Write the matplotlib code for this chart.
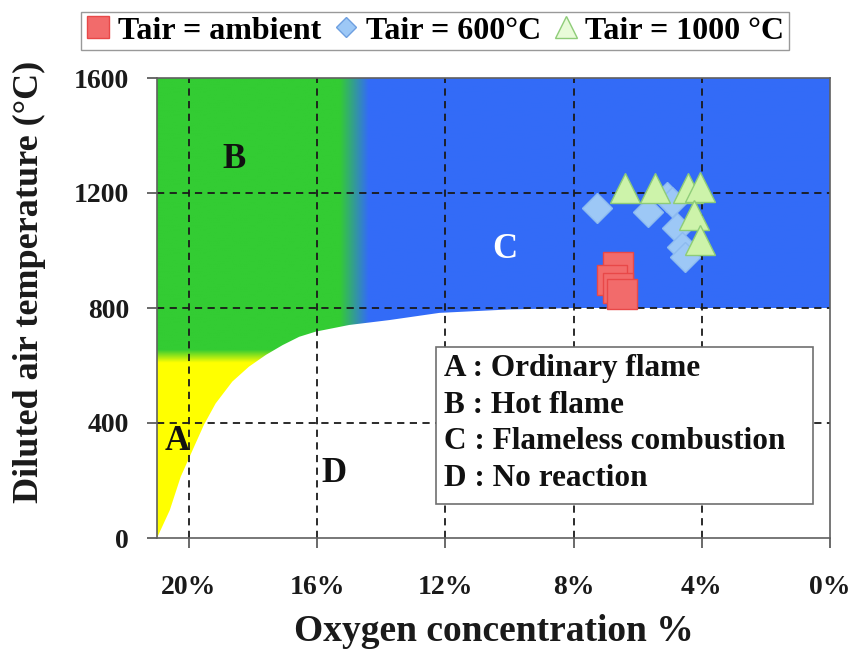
import numpy as np
import matplotlib
matplotlib.use("Agg")
import matplotlib.pyplot as plt
from matplotlib.patches import Polygon, Rectangle
from matplotlib.lines import Line2D
from matplotlib.font_manager import FontProperties

# ---- data ----
x_ticks = [20, 16, 12, 8, 4, 0]
x_ticklabels = ["20%", "16%", "12%", "8%", "4%", "0%"]
y_ticks = [0, 400, 800, 1200, 1600]

# lower boundary of reacting regions (A/B/C) vs no reaction (D)
bound_x = [21.0, 20.6, 20.26, 19.84, 19.53, 19.17, 18.65, 18.13, 17.6, 17.08,
           16.56, 16.04, 15.0, 13.75, 12.19, 10.0, 8.0, 0.0]
bound_y = [0, 97, 213, 318, 395, 468, 544, 596, 637, 671,
           700, 718, 741, 758, 783, 795, 800, 800]

amb_x = [6.63, 6.80, 6.60, 6.50]
amb_y = [943, 897, 870, 850]
t600_x = [7.28, 5.69, 5.10, 4.94, 4.78, 4.63, 4.53]
t600_y = [1148, 1134, 1186, 1169, 1078, 1012, 977]
t1000_x = [6.41, 5.47, 4.44, 4.06, 4.25, 4.06]
t1000_y = [1217, 1217, 1217, 1221, 1123, 1037]

series_labels = ["Tair = ambient", "Tair = 600°C", "Tair = 1000 °C"]
region_text = ["A : Ordinary flame", "B : Hot flame", "C : Flameless combustion", "D : No reaction"]

SERIF = "Liberation Serif"

fig = plt.figure(figsize=(8.53, 6.53), dpi=100)
ax = fig.add_axes([157/853, 1-538/653, (830-157)/853, (538-78)/653])
ax.set_xlim(21, 0)
ax.set_ylim(0, 1600)

# ---- coloured regions (gradient image clipped to area above boundary) ----
green = np.array([0.20, 0.80, 0.20])
yellow = np.array([1.0, 1.0, 0.0])
blue = np.array([0.20, 0.42, 0.97])
nx, ny = 700, 700
gx = np.linspace(21, 0, nx)
gy = np.linspace(0, 1600, ny)
ty = np.clip((gy - 610) / 45.0, 0, 1)[:, None, None]
col_gy = yellow * (1 - ty) + green * ty
tx = np.clip((15.3 - gx) / 0.9, 0, 1)[None, :, None]
img = col_gy * (1 - tx) + blue * tx
im = ax.imshow(img, extent=(21, 0, 0, 1600), origin="lower", aspect="auto",
               interpolation="bilinear", zorder=1)
verts = list(zip(bound_x, bound_y)) + [(0, 1600), (21, 1600)]
clip = Polygon(verts, closed=True, facecolor="none", edgecolor="none",
               transform=ax.transData)
ax.add_patch(clip)
im.set_clip_path(clip)
ax.set_xlim(21, 0)
ax.set_ylim(0, 1600)

# ---- grid ----
for xv in x_ticks[:-1]:
    ax.axvline(xv, color="#1a1a1a", lw=1.3, ls=(0, (4, 3)), zorder=2)
for yv in y_ticks[1:-1]:
    ax.axhline(yv, color="#1a1a1a", lw=1.3, ls=(0, (4, 3)), zorder=2)

# ---- region letters ----
fp_big = dict(family=SERIF, weight="bold", fontsize=25)
ax.text(18.6, 1315, "B", ha="center", va="center", color="#111111", zorder=4, **fp_big)
ax.text(10.16, 1002, "C", ha="center", va="center", color="white", zorder=4, **fp_big)
ax.text(20.36, 335, "A", ha="center", va="center", color="#111111", zorder=4, **fp_big)
ax.text(15.47, 225, "D", ha="center", va="center", color="#111111", zorder=4, **fp_big)

# ---- explanatory box ----
ax.add_patch(Rectangle((12.28, 118), 0.53 - 12.28, 664 - 118, facecolor="white",
                       edgecolor="#707070", lw=1.2, zorder=3))
for i, t in enumerate(region_text):
    ax.text(12.06, 590 - i * 128, t, ha="left", va="center", color="#111111",
            family=SERIF, weight="bold", fontsize=22.5, zorder=4)

# ---- data markers ----
ax.plot(amb_x, amb_y, ls="none", marker="s", ms=21, mfc="#F26B6B", mec="#E84848",
        mew=1.0, zorder=5)
ax.plot(t600_x, t600_y, ls="none", marker="D", ms=15, mfc="#9DC8F6", mec="#8DBBEF",
        mew=1.0, zorder=6)
ax.plot(t1000_x, t1000_y, ls="none", marker="^", ms=21, mfc="#CDF3AA", mec="#8ECC78",
        mew=1.0, zorder=7)

# ---- axes styling ----
ax.set_xticks(x_ticks)
ax.set_xticklabels(x_ticklabels)
ax.set_yticks(y_ticks)
ax.set_yticklabels([str(v) for v in y_ticks])
ax.tick_params(direction="out", length=7, width=1.2, color="#505050")
ax.tick_params(axis="x", pad=20)
ax.tick_params(axis="y", pad=13)
for lab in ax.get_xticklabels() + ax.get_yticklabels():
    lab.set_fontfamily(SERIF)
    lab.set_fontweight("bold")
    lab.set_fontsize(20)
    lab.set_color("#1a1a1a")
for s in ax.spines.values():
    s.set_color("#606060")
    s.set_linewidth(1.2)
    s.set_zorder(8)

ax.set_xlabel("Oxygen concentration %", family=SERIF, weight="bold", fontsize=27,
              color="#1a1a1a")
ax.xaxis.set_label_coords((494 - 157) / 673, (538 - 614) / 460)
ax.set_ylabel("Diluted air temperature (°C)", family=SERIF, weight="bold", fontsize=26,
              color="#1a1a1a")
ax.yaxis.set_label_coords((46 - 157) / 673, (538 - 282) / 460)

# ---- legend ----
handles = [
    Line2D([], [], ls="none", marker="s", ms=16, mfc="#F26B6B", mec="#E84848"),
    Line2D([], [], ls="none", marker="D", ms=10, mfc="#9DC8F6", mec="#6E9FE0"),
    Line2D([], [], ls="none", marker="^", ms=16, mfc="#E8FBD8", mec="#8ECC78"),
]
fig.legend(handles, series_labels, loc="center", bbox_to_anchor=(435/853, 1-31/653),
           ncol=3, frameon=True, fancybox=False, edgecolor="#808080",
           prop=FontProperties(family=SERIF, weight="bold", size=23),
           handlelength=0.8, handletextpad=0.2, columnspacing=0.4, borderpad=0.15)

fig.savefig("out.png", dpi=100)
